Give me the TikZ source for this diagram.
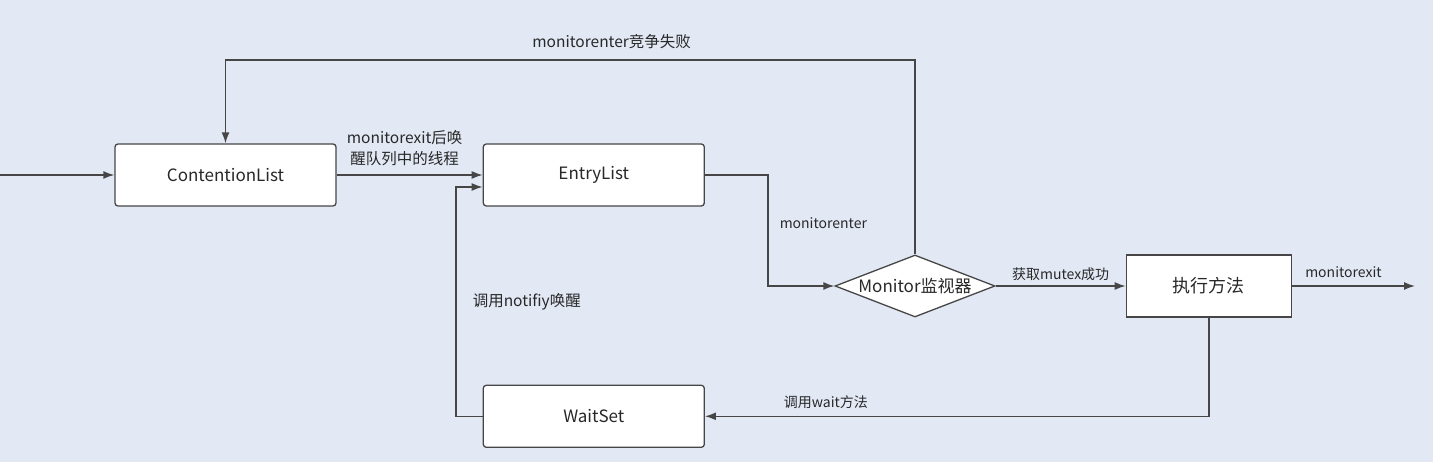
\documentclass[tikz,border=0pt]{standalone}
\usepackage{fontspec}
\setmainfont{Noto Sans CJK SC}
\usepackage{tikz}
\usetikzlibrary{arrows.meta,positioning,shapes.geometric,calc}
\definecolor{bgblue}{RGB}{226,233,245}
\definecolor{linegray}{RGB}{70,70,70}
\definecolor{textgray}{RGB}{40,40,40}
\tikzset{
  box/.style={
    draw=linegray,
    line width=1.3pt,
    fill=white,
    rounded corners=3pt,
    minimum width=221pt,
    minimum height=62pt,
    inner sep=0pt,
    text=textgray,
    font=\fontsize{17}{20}\selectfont
  },
  square box/.style={
    box,
    rounded corners=0pt,
    minimum width=165pt,
    font=\fontsize{18}{21}\selectfont
  },
  monitor/.style={
    draw=linegray,
    line width=1.3pt,
    fill=white,
    shape=diamond,
    minimum width=160pt,
    minimum height=62pt,
    inner sep=0pt
  },
  flow/.style={
    draw=linegray,
    line width=1.5pt,
    -{Latex[length=11pt,width=8pt]}
  },
  lbl/.style={
    font=\fontsize{14}{20}\selectfont,
    text=textgray,
    inner sep=0pt
  },
  big lbl/.style={
    lbl,
    font=\fontsize{15.5}{21}\selectfont
  }
}

\begin{document}
\begin{tikzpicture}[x=1pt, y=-1pt, node distance=146pt]
   \useasboundingbox (0,0) rectangle (1433,462);
   \fill[bgblue] (0,0) rectangle (1433,462);

   \node[box] (cl) at (225.5,175) {ContentionList};
   \node[box] (el) [right=of cl] {EntryList};
   \node[box] (ws) [below=178pt of el] {WaitSet};
   \node[monitor, label={[font=\fontsize{17}{20}\selectfont, text=textgray]center:Monitor监视器}] (mon) at (915,286) {};
   \node[square box] (run) [right=130pt of mon] {执行方法};

   \coordinate (in) at (0,175);
   \coordinate (out) at (1415,286);
   \coordinate (top) at (0,60);
   \coordinate (turn) at (768,175);
   \coordinate (bend) at (456,0);

\draw[flow] (in) -- (cl);
\draw[flow] (cl) -- node[big lbl, above=8pt, xshift=-5pt, align=center] {monitorexit后唤\\醒队列中的线程} (el);
\draw[flow] (mon.north) -- (mon.north |- top)
      -- node[big lbl, above=10pt, pos=0.44] {monitorenter竞争失败} (cl.north |- top)
      -- (cl.north);
\draw[flow] (el.east) -- (turn)
      |- node[lbl, anchor=west, pos=0.25, xshift=11pt, yshift=7pt] {monitorenter} (mon.west);
\draw[flow] (mon.east) -- node[lbl, above=5pt] {获取mutex成功} (run.west);
\draw[flow] (run.east) -- node[lbl, above=8pt, xshift=-10pt] {monitorexit} (out);
\draw[flow] (run.south) |- node[lbl, above=7pt, pos=0.88] {调用wait方法} (ws.east);
\draw[flow] (ws.west) -- (ws.west -| bend)
      |- node[big lbl, anchor=west, pos=0.25, xshift=16pt] {调用notifiy唤醒} ([yshift=-12pt]el.west);
\end{tikzpicture}
\end{document}
